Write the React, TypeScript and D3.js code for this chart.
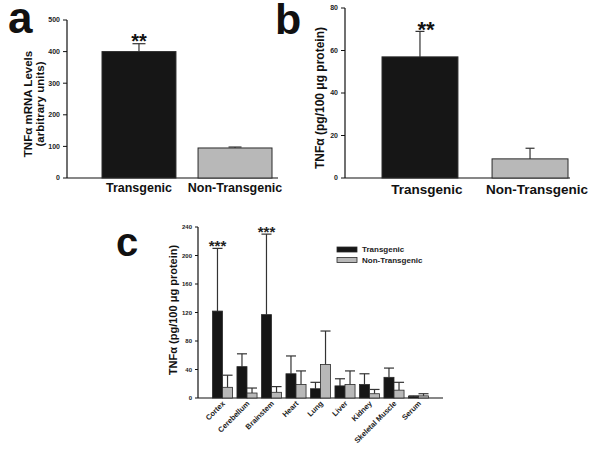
import React from "react";
import * as d3 from "d3";

const groupsAB = ["Transgenic", "Non-Transgenic"];
const mrnaValues = [400, 95];
const mrnaErrors = [25, 3];
const mrnaTicks = [0, 100, 200, 300, 400, 500];
const proteinValues = [57, 9];
const proteinErrors = [12, 5];
const proteinTicks = [0, 20, 40, 60, 80];

const tissues = ["Cortex", "Cerebellum", "Brainstem", "Heart", "Lung", "Liver", "Kidney", "Skeletal Muscle", "Serum"];
const transValues = [122, 44, 117, 34, 13, 17, 19, 29, 2];
const transErrors = [88, 18, 113, 25, 9, 10, 15, 13, 1];
const nonTransValues = [15, 7, 8, 19, 47, 19, 6, 11, 3];
const nonTransErrors = [17, 7, 8, 19, 47, 19, 6, 11, 3];
const tissueTicks = [0, 40, 80, 120, 160, 200, 240];
const seriesNames = ["Transgenic", "Non-Transgenic"];
const significance = ["***", "", "***", "", "", "", "", "", ""];

const FONT = "'Liberation Sans', Arial, sans-serif";
const BLACK = "#161616";
const GREY = "#b8b8b8";
const EDGE = "#2a2a2a";

function ErrorBar({ x, y0, y1, cap, color }: { x: number; y0: number; y1: number; cap: number; color: string }) {
  return (
    <g stroke={color} strokeWidth={1.2}>
      <line x1={x} x2={x} y1={y0} y2={y1} />
      <line x1={x - cap / 2} x2={x + cap / 2} y1={y1} y2={y1} />
    </g>
  );
}

function YAxis({ x, y, ticks, fontSize, tickLen }: { x: number; y: d3.ScaleLinear<number, number>; ticks: number[]; fontSize: number; tickLen: number }) {
  const r = y.range();
  return (
    <g>
      <line x1={x} x2={x} y1={r[0]} y2={r[1]} stroke="#111" strokeWidth={1.2} />
      {ticks.map((t) => (
        <g key={t}>
          <line x1={x - tickLen} x2={x} y1={y(t)} y2={y(t)} stroke="#111" strokeWidth={1} />
          <text x={x - tickLen - 3} y={y(t)} dy="0.35em" textAnchor="end" fontSize={fontSize} fontFamily={FONT} fontWeight="bold" fill="#222">
            {t}
          </text>
        </g>
      ))}
    </g>
  );
}

export default function App() {
  // Panel a
  const yA = d3.scaleLinear().domain([0, 500]).range([178, 20]);
  const xA = d3.scaleBand().domain(groupsAB).range([102, 272]).paddingInner(0.23).paddingOuter(0);
  // Panel b
  const yB = d3.scaleLinear().domain([0, 80]).range([178, 8]);
  const xB = d3.scaleBand().domain(groupsAB).range([382, 568]).paddingInner(0.31).paddingOuter(0);
  // Panel c
  const yC = d3.scaleLinear().domain([0, 240]).range([398, 227]);
  const xC = d3.scaleBand().domain(tissues).range([198, 443]).paddingInner(0.18).paddingOuter(0.59);
  const xSub = d3.scaleBand().domain(seriesNames).range([0, xC.bandwidth()]);
  const fills = [BLACK, GREY];

  return (
    <svg width={600} height={450} style={{ position: "absolute", left: 0, top: 0, background: "#fff" }} fontFamily={FONT}>
      <rect x={0} y={0} width={600} height={450} fill="#fff" />
      {/* Panel a */}
      <text x={8} y={33} fontSize={44} fontWeight="bold" fill="#111">a</text>
      <YAxis x={67} y={yA} ticks={mrnaTicks} fontSize={7} tickLen={4} />
      <line x1={67} x2={278} y1={yA(0)} y2={yA(0)} stroke="#111" strokeWidth={1.2} />
      {groupsAB.map((g, i) => {
        const x = xA(g)!;
        const w = xA.bandwidth();
        return (
          <g key={g}>
            <rect x={x} y={yA(mrnaValues[i])} width={w} height={yA(0) - yA(mrnaValues[i])} fill={fills[i]} stroke={EDGE} strokeWidth={1} />
            <ErrorBar x={x + w / 2} y0={yA(mrnaValues[i])} y1={yA(mrnaValues[i] + mrnaErrors[i])} cap={13} color="#333" />
            <text x={x + w / 2} y={192} textAnchor="middle" fontSize={12.5} fontWeight="bold" fill="#111">{g}</text>
          </g>
        );
      })}
      <text x={xA("Transgenic")! + xA.bandwidth() / 2} y={48} textAnchor="middle" fontSize={20} fontWeight="bold" fill="#111">**</text>
      <text transform="translate(32,104) rotate(-90)" textAnchor="middle" fontSize={11.5} fontWeight="bold" fill="#111">TNFα mRNA Levels</text>
      <text transform="translate(44,104) rotate(-90)" textAnchor="middle" fontSize={11.5} fontWeight="bold" fill="#111">(arbitrary units)</text>

      {/* Panel b */}
      <text x={275} y={34} fontSize={43} fontWeight="bold" fill="#111">b</text>
      <YAxis x={345} y={yB} ticks={proteinTicks} fontSize={7} tickLen={4} />
      <line x1={345} x2={570} y1={yB(0)} y2={yB(0)} stroke="#111" strokeWidth={1.2} />
      {groupsAB.map((g, i) => {
        const x = xB(g)!;
        const w = xB.bandwidth();
        return (
          <g key={g}>
            <rect x={x} y={yB(proteinValues[i])} width={w} height={yB(0) - yB(proteinValues[i])} fill={fills[i]} stroke={EDGE} strokeWidth={1} />
            <ErrorBar x={x + w / 2} y0={yB(proteinValues[i])} y1={yB(proteinValues[i] + proteinErrors[i])} cap={9} color="#333" />
            <text x={x + w / 2 + 7} y={194} textAnchor="middle" fontSize={13.5} fontWeight="bold" fill="#111">{g}</text>
          </g>
        );
      })}
      <text x={xB("Transgenic")! + xB.bandwidth() / 2 + 6} y={37} textAnchor="middle" fontSize={22} fontWeight="bold" fill="#111">**</text>
      <text transform="translate(324,98) rotate(-90)" textAnchor="middle" fontSize={12} fontWeight="bold" fill="#111">TNFα (pg/100 μg protein)</text>

      {/* Panel c */}
      <text x={116} y={256} fontSize={40} fontWeight="bold" fill="#111">c</text>
      <YAxis x={198} y={yC} ticks={tissueTicks} fontSize={6} tickLen={3} />
      <line x1={198} x2={443} y1={yC(0)} y2={yC(0)} stroke="#111" strokeWidth={1.2} />
      {tissues.map((t, i) => {
        const gx = xC(t)!;
        const vals = [transValues[i], nonTransValues[i]];
        const errs = [transErrors[i], nonTransErrors[i]];
        const cx = gx + xC.bandwidth() / 2;
        return (
          <g key={t}>
            {seriesNames.map((s, j) => {
              const bx = gx + xSub(s)!;
              const bw = xSub.bandwidth();
              return (
                <g key={s}>
                  <ErrorBar x={bx + bw / 2} y0={yC(vals[j])} y1={yC(vals[j] + errs[j])} cap={bw} color="#333" />
                  <rect x={bx} y={yC(vals[j])} width={bw} height={yC(0) - yC(vals[j])} fill={fills[j]} stroke={EDGE} strokeWidth={0.8} />
                </g>
              );
            })}
            {significance[i] && (
              <text x={gx + xSub("Transgenic")! + xSub.bandwidth() / 2} y={yC(vals[0] + errs[0]) + 3} textAnchor="middle" fontSize={15} fontWeight="bold" fill="#222">
                {significance[i]}
              </text>
            )}
            <text transform={`translate(${cx + 3},${404}) rotate(-45)`} textAnchor="end" fontSize={7.5} fontWeight="bold" fill="#222">{t}</text>
          </g>
        );
      })}
      <text transform="translate(177,310) rotate(-90)" textAnchor="middle" fontSize={11} fontWeight="bold" fill="#111">TNFα (pg/100 μg protein)</text>
      {seriesNames.map((s, j) => (
        <g key={s}>
          <rect x={337} y={247 + j * 10.5} width={20} height={5} fill={fills[j]} stroke={EDGE} strokeWidth={0.8} />
          <text x={362} y={249.5 + j * 10.5} dy="0.35em" fontSize={8} fontWeight="bold" fill="#222">{s}</text>
        </g>
      ))}
    </svg>
  );
}
